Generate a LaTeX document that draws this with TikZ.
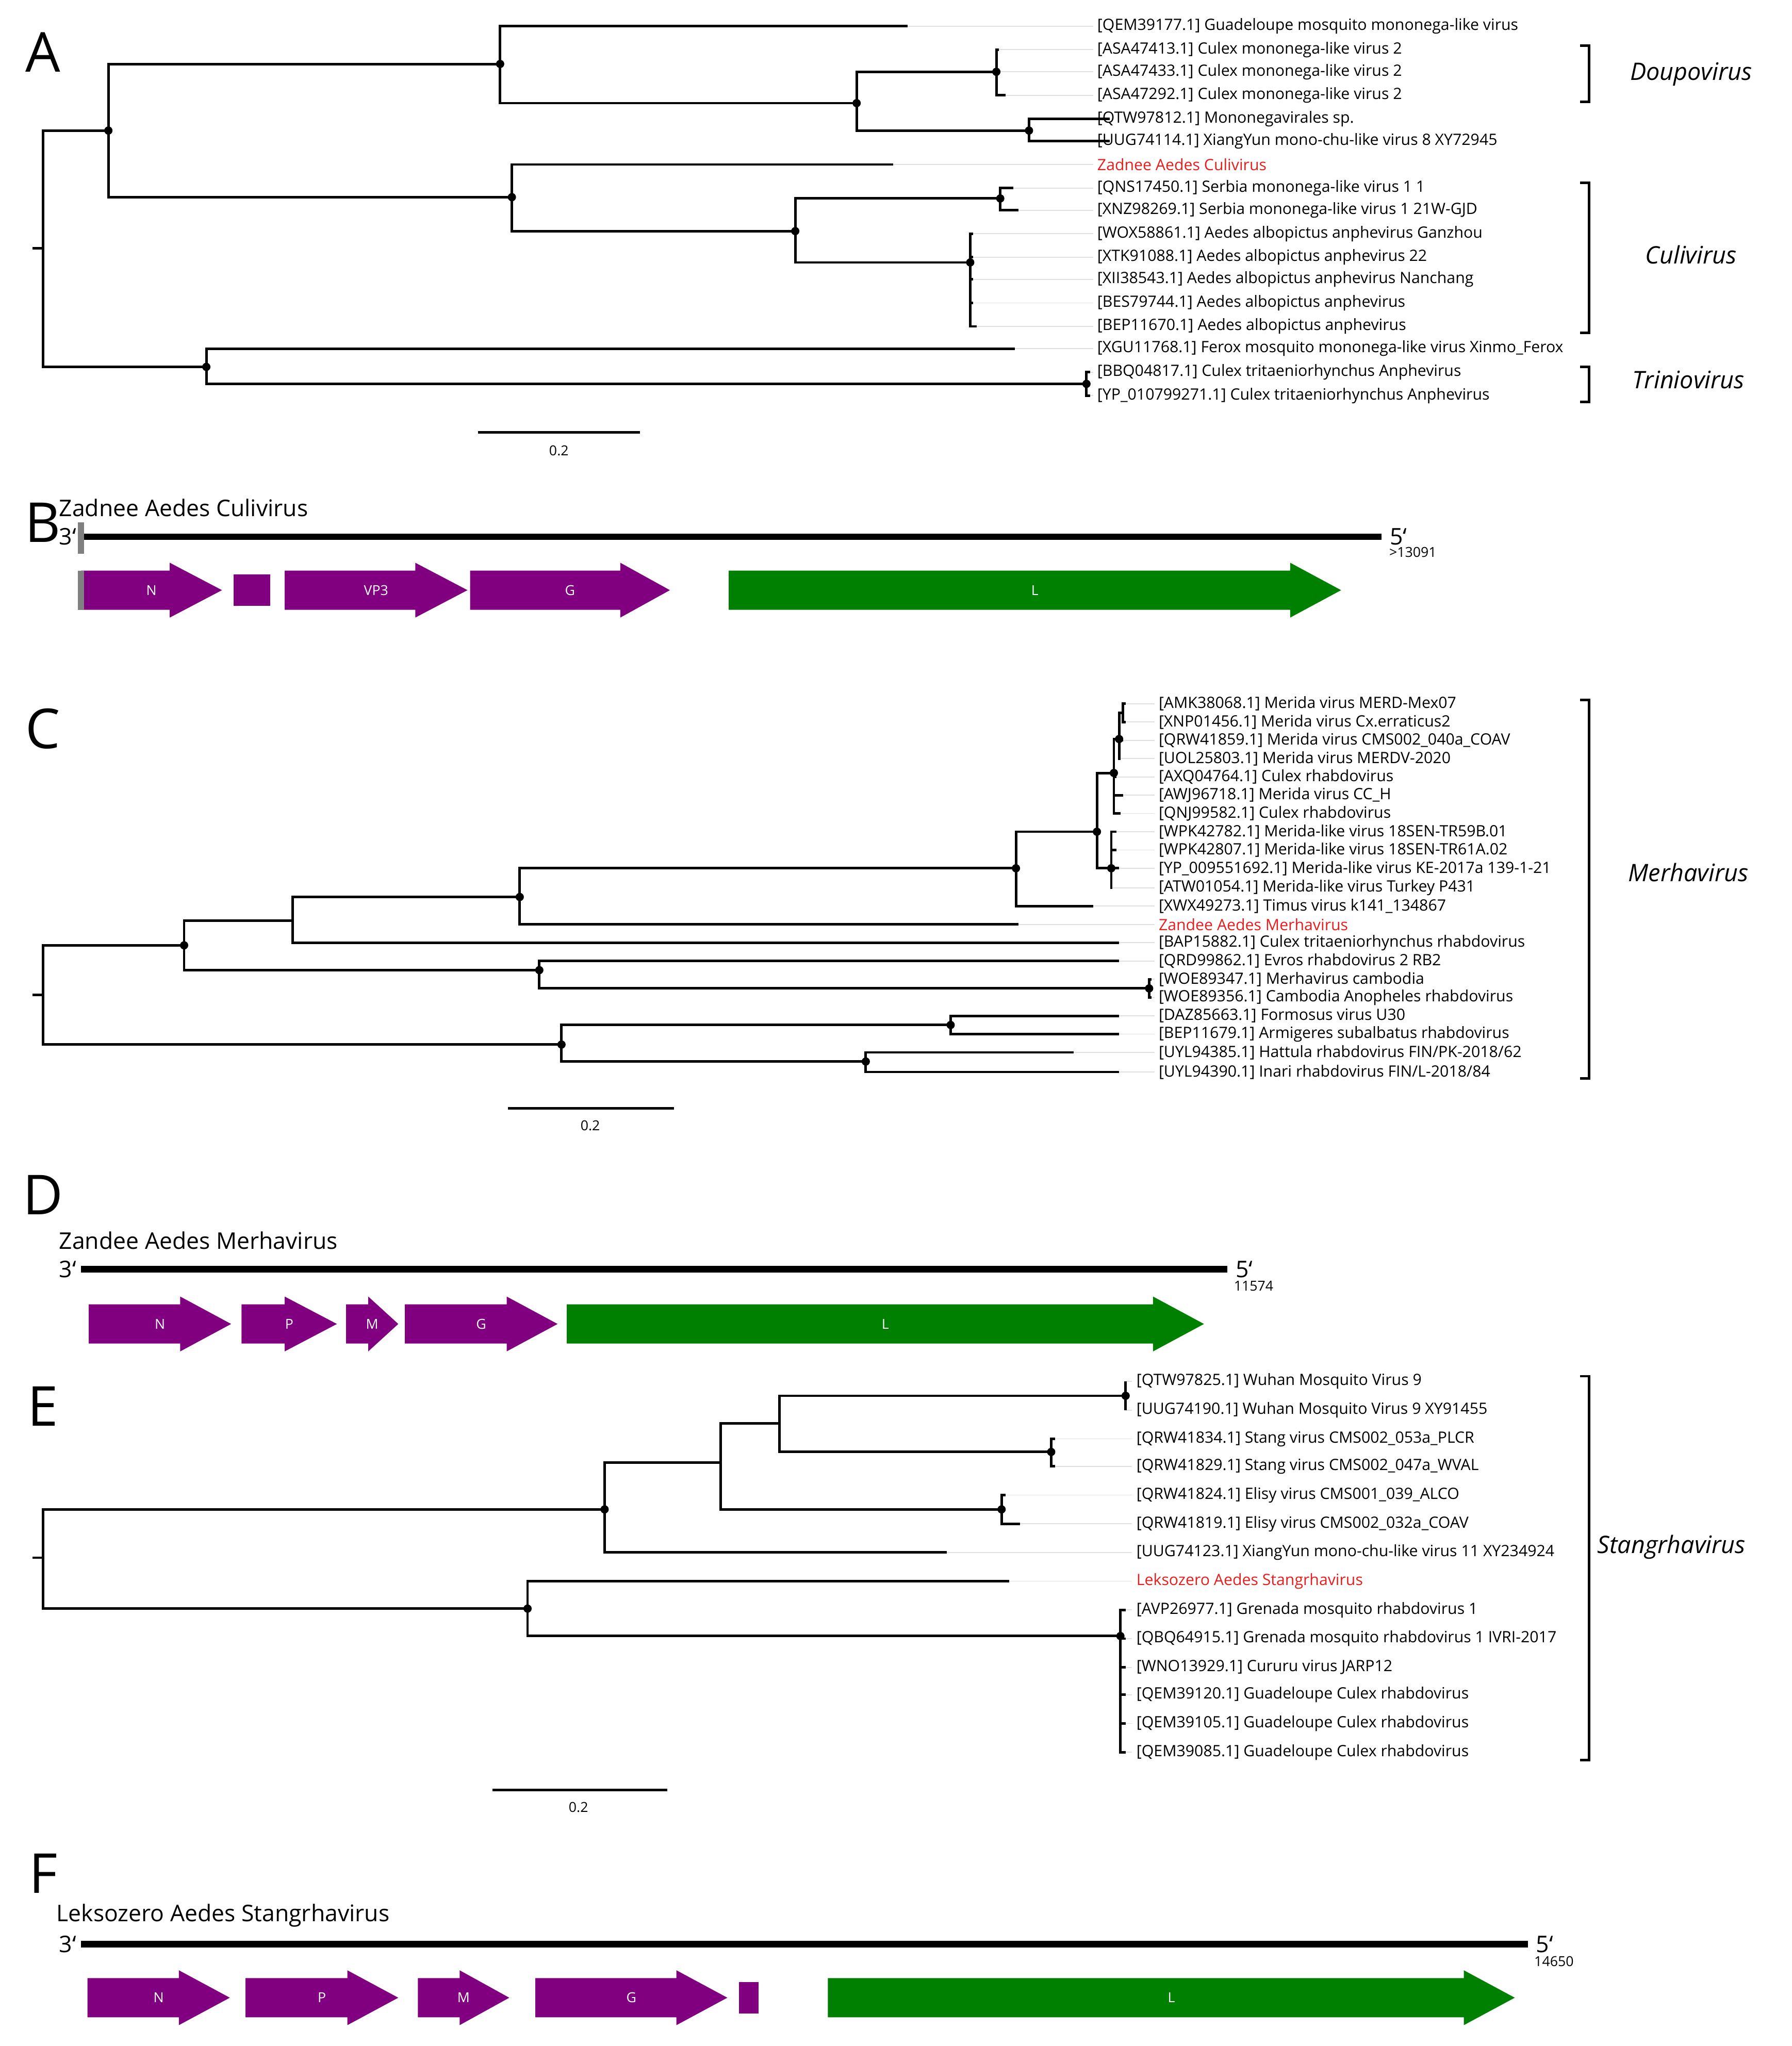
\documentclass[tikz,border=0pt]{standalone}
\usepackage{fontspec}
\setmainfont{Open Sans}
\begin{document}
\begin{tikzpicture}[x=0.02cm,y=-0.02cm,
 tr/.style={line width=1.1pt},
 faint/.style={line width=0.4pt,black!12},
 lab/.style={anchor=west,inner sep=0pt,font=\fontsize{6.8}{8}\selectfont},
 redlab/.style={lab,text={rgb,255:red,232;green,30;blue,30}},
 clade/.style={anchor=center,font=\fontsize{10.5}{12}\selectfont\itshape},
 panel/.style={anchor=center,font=\fontsize{24}{28}\selectfont},
 ttl/.style={anchor=west,inner sep=0pt,font=\fontsize{10}{12}\selectfont},
 small/.style={anchor=center,font=\fontsize{6}{7}\selectfont},
 gen/.style={line width=2.8pt},
 brk/.style={line width=1.1pt}]
\definecolor{gpurple}{RGB}{128,0,128}
\definecolor{ggreen}{RGB}{0,128,0}
\useasboundingbox (0,0) rectangle (1372,1567);
\newcommand\tip[4]{\draw[faint] (#1,#2)--(#3-3,#2); \node[lab] at (#3,#2) {#4};}
\newcommand\rtip[4]{\draw[faint] (#1,#2)--(#3-3,#2); \node[redlab] at (#3,#2) {#4};}
\newcommand\dt[2]{\fill (#1,#2) circle[radius=1.8pt];}
\newcommand\garr[7]{\fill[#5] (#1,#4-15)--(#3,#4-15)--(#3,#4-21)--(#2,#4)--(#3,#4+21)--(#3,#4+15)--(#1,#4+15)--cycle;
 \node[small,white] at ({(#1+#2)/2},#4) {#6};}
\newcommand\gbox[4]{\fill[#4] (#1,#3-12) rectangle (#2,#3+12);}
\newcommand\bracket[3]{\draw[brk] (#1-7,#2)--(#1,#2)--(#1,#3)--(#1-7,#3);}
% ===== A =====
\node[panel] at (33,40) {A};
\tip{695}{20}{840}{[QEM39177.1] Guadeloupe mosquito mononega-like virus}
\tip{765}{38}{840}{[ASA47413.1] Culex mononega-like virus 2}
\tip{765}{55}{840}{[ASA47433.1] Culex mononega-like virus 2}
\tip{770}{73}{840}{[ASA47292.1] Culex mononega-like virus 2}
\tip{850}{91}{840}{[QTW97812.1] Mononegavirales sp.}
\tip{850}{108}{840}{[UUG74114.1] XiangYun mono-chu-like virus 8 XY72945}
\rtip{684}{126}{840}{Zadnee Aedes Culivirus}
\tip{776}{144}{840}{[QNS17450.1] Serbia mononega-like virus 1 1}
\tip{780}{161}{840}{[XNZ98269.1] Serbia mononega-like virus 1 21W-GJD}
\tip{745}{179}{840}{[WOX58861.1] Aedes albopictus anphevirus Ganzhou}
\tip{745}{197}{840}{[XTK91088.1] Aedes albopictus anphevirus 22}
\tip{745}{214}{840}{[XII38543.1] Aedes albopictus anphevirus Nanchang}
\tip{745}{232}{840}{[BES79744.1] Aedes albopictus anphevirus}
\tip{748}{250}{840}{[BEP11670.1] Aedes albopictus anphevirus}
\tip{777}{267}{840}{[XGU11768.1] Ferox mosquito mononega-like virus Xinmo\_Ferox}
\tip{835}{285}{840}{[BBQ04817.1] Culex tritaeniorhynchus Anphevirus}
\tip{835}{303}{840}{[YP\_010799271.1] Culex tritaeniorhynchus Anphevirus}
\draw[tr] (25,190)--(33,190);
\draw[tr] (33,190)|-(83,100); \draw[tr] (33,190)|-(158,281);
\draw[tr] (83,100)|-(383,49); \draw[tr] (83,100)|-(392,151);
\draw[tr] (383,49)|-(695,20); \draw[tr] (383,49)|-(656,79);
\draw[tr] (656,79)|-(763,55); \draw[tr] (656,79)|-(788,100);
\draw[tr] (763,55)|-(765,38); \draw[tr] (763,55)|-(765,55); \draw[tr] (763,55)|-(770,73);
\draw[tr] (788,100)|-(850,91); \draw[tr] (788,100)|-(850,108);
\draw[tr] (392,151)|-(684,126); \draw[tr] (392,151)|-(609,177);
\draw[tr] (609,177)|-(766,152); \draw[tr] (609,177)|-(743,201);
\draw[tr] (766,152)|-(776,144); \draw[tr] (766,152)|-(780,161);
\foreach \y in {179,197,214,232} {\draw[tr] (743,201)|-(745,\y);}
\draw[tr] (743,201)|-(748,250);
\draw[tr] (158,281)|-(777,267); \draw[tr] (158,281)|-(832,294);
\draw[tr] (832,294)|-(835,285); \draw[tr] (832,294)|-(835,303);
\dt{83}{100}\dt{383}{49}\dt{763}{55}\dt{656}{79}\dt{788}{100}\dt{392}{151}\dt{766}{152}\dt{609}{177}\dt{743}{201}\dt{158}{281}\dt{832}{294}
\bracket{1217}{35}{78} \node[clade] at (1295,57) {Doupovirus};
\bracket{1217}{140}{255} \node[clade] at (1295,195) {Culivirus};
\bracket{1217}{281}{308} \node[clade] at (1293,291) {Triniovirus};
\draw[tr] (366,331)--(490,331); \node[small] at (428,345) {0.2};
% ===== B =====
\node[panel] at (33,400) {B};
\node[ttl] at (45,389) {Zadnee Aedes Culivirus};
\node[ttl] at (45,411) {3`};
\draw[gen] (62,411)--(1058,411);
\draw[line width=2.5pt,gray] (62,400)--(62,424);
\node[ttl] at (1064,411) {5`};
\node[small] at (1082,423) {>13091};
\garr{62}{170}{130}{452}{gpurple}{N}{}
\gbox{179}{207}{452}{gpurple}
\garr{218}{358}{318}{452}{gpurple}{VP3}{}
\garr{360}{513}{475}{452}{gpurple}{G}{}
\garr{558}{1027}{988}{452}{ggreen}{L}{}
\draw[line width=2.5pt,gray] (62,437)--(62,467);
% ===== C =====
\node[panel] at (33,558) {C};
\tip{862}{539}{887}{[AMK38068.1] Merida virus MERD-Mex07}
\tip{862}{553}{887}{[XNP01456.1] Merida virus Cx.erraticus2}
\tip{860}{567}{887}{[QRW41859.1] Merida virus CMS002\_040a\_COAV}
\tip{858}{581}{887}{[UOL25803.1] Merida virus MERDV-2020}
\tip{855}{595}{887}{[AXQ04764.1] Culex rhabdovirus}
\tip{860}{609}{887}{[AWJ96718.1] Merida virus CC\_H}
\tip{858}{623}{887}{[QNJ99582.1] Culex rhabdovirus}
\tip{855}{637}{887}{[WPK42782.1] Merida-like virus 18SEN-TR59B.01}
\tip{855}{651}{887}{[WPK42807.1] Merida-like virus 18SEN-TR61A.02}
\tip{857}{665}{887}{[YP\_009551692.1] Merida-like virus KE-2017a 139-1-21}
\tip{852}{680}{887}{[ATW01054.1] Merida-like virus Turkey P431}
\tip{837}{694}{887}{[XWX49273.1] Timus virus k141\_134867}
\rtip{780}{708}{887}{Zandee Aedes Merhavirus}
\tip{857}{722}{887}{[BAP15882.1] Culex tritaeniorhynchus rhabdovirus}
\tip{857}{736}{887}{[QRD99862.1] Evros rhabdovirus 2 RB2}
\tip{882}{750}{887}{[WOE89347.1] Merhavirus cambodia}
\tip{882}{764}{887}{[WOE89356.1] Cambodia Anopheles rhabdovirus}
\tip{857}{778}{887}{[DAZ85663.1] Formosus virus U30}
\tip{857}{792}{887}{[BEP11679.1] Armigeres subalbatus rhabdovirus}
\tip{822}{806}{887}{[UYL94385.1] Hattula rhabdovirus FIN/PK-2018/62}
\tip{857}{821}{887}{[UYL94390.1] Inari rhabdovirus FIN/L-2018/84}
\draw[tr] (25,762)--(33,762);
\draw[tr] (33,762)|-(141,724); \draw[tr] (33,762)|-(430,800);
\draw[tr] (141,724)|-(224,705); \draw[tr] (141,724)|-(413,743);
\draw[tr] (224,705)|-(398,687); \draw[tr] (224,705)|-(857,722);
\draw[tr] (398,687)|-(778,665); \draw[tr] (398,687)|-(780,708);
\draw[tr] (778,665)|-(840,637); \draw[tr] (778,665)|-(837,694);
\draw[tr] (840,637)|-(853,592); \draw[tr] (840,637)|-(851,665);
\draw[tr] (853,592)|-(857,566); \draw[tr] (853,592)|-(855,595); \draw[tr] (853,592)|-(860,609); \draw[tr] (853,592)|-(858,623);
\draw[tr] (857,566)|-(860,546); \draw[tr] (857,566)|-(860,567); \draw[tr] (857,566)|-(858,581);
\draw[tr] (860,546)|-(862,539); \draw[tr] (860,546)|-(862,553);
\draw[tr] (851,665)|-(855,637); \draw[tr] (851,665)|-(855,651); \draw[tr] (851,665)|-(857,665); \draw[tr] (851,665)|-(852,680);
\draw[tr] (413,743)|-(857,736); \draw[tr] (413,743)|-(880,757);
\draw[tr] (880,757)|-(882,750); \draw[tr] (880,757)|-(882,764);
\draw[tr] (430,800)|-(728,785); \draw[tr] (430,800)|-(663,813);
\draw[tr] (728,785)|-(857,778); \draw[tr] (728,785)|-(857,792);
\draw[tr] (663,813)|-(822,806); \draw[tr] (663,813)|-(857,821);
\dt{141}{724}\dt{398}{687}\dt{778}{665}\dt{840}{637}\dt{853}{592}\dt{857}{566}\dt{851}{665}\dt{413}{743}\dt{880}{757}\dt{430}{800}\dt{728}{785}\dt{663}{813}
\bracket{1217}{536}{826} \node[clade] at (1293,668) {Merhavirus};
\draw[tr] (389,849)--(516,849); \node[small] at (452,862) {0.2};
% ===== D =====
\node[panel] at (33,915) {D};
\node[ttl] at (45,950) {Zandee Aedes Merhavirus};
\node[ttl] at (45,972) {3`};
\draw[gen] (62,972)--(940,972);
\node[ttl] at (946,972) {5`};
\node[small] at (960,985) {11574};
\garr{68}{177}{138}{1014}{gpurple}{N}{}
\garr{185}{258}{218}{1014}{gpurple}{P}{}
\garr{265}{305}{282}{1014}{gpurple}{M}{}
\garr{310}{427}{388}{1014}{gpurple}{G}{}
\garr{434}{922}{883}{1014}{ggreen}{L}{}
% ===== E =====
\node[panel] at (33,1077) {E};
\tip{862}{1058}{870}{[QTW97825.1] Wuhan Mosquito Virus 9}
\tip{862}{1080}{870}{[UUG74190.1] Wuhan Mosquito Virus 9 XY91455}
\tip{808}{1102}{870}{[QRW41834.1] Stang virus CMS002\_053a\_PLCR}
\tip{808}{1123}{870}{[QRW41829.1] Stang virus CMS002\_047a\_WVAL}
\tip{770}{1145}{870}{[QRW41824.1] Elisy virus CMS001\_039\_ALCO}
\tip{781}{1167}{870}{[QRW41819.1] Elisy virus CMS002\_032a\_COAV}
\tip{725}{1189}{870}{[UUG74123.1] XiangYun mono-chu-like virus 11 XY234924}
\rtip{773}{1211}{870}{Leksozero Aedes Stangrhavirus}
\tip{862}{1233}{870}{[AVP26977.1] Grenada mosquito rhabdovirus 1}
\tip{862}{1255}{870}{[QBQ64915.1] Grenada mosquito rhabdovirus 1 IVRI-2017}
\tip{862}{1277}{870}{[WNO13929.1] Cururu virus JARP12}
\tip{862}{1298}{870}{[QEM39120.1] Guadeloupe Culex rhabdovirus}
\tip{862}{1320}{870}{[QEM39105.1] Guadeloupe Culex rhabdovirus}
\tip{862}{1342}{870}{[QEM39085.1] Guadeloupe Culex rhabdovirus}
\draw[tr] (25,1193)--(33,1193);
\draw[tr] (33,1193)|-(463,1156); \draw[tr] (33,1193)|-(404,1232);
\draw[tr] (463,1156)|-(552,1120); \draw[tr] (463,1156)|-(725,1189);
\draw[tr] (552,1120)|-(597,1090); \draw[tr] (552,1120)|-(767,1156);
\draw[tr] (597,1090)|-(862,1069); \draw[tr] (597,1090)|-(805,1112);
\draw[tr] (862,1069)|-(862,1058); \draw[tr] (862,1069)|-(862,1080);
\draw[tr] (805,1112)|-(808,1102); \draw[tr] (805,1112)|-(808,1123);
\draw[tr] (767,1156)|-(770,1145); \draw[tr] (767,1156)|-(781,1167);
\draw[tr] (404,1232)|-(773,1211); \draw[tr] (404,1232)|-(858,1253);
\foreach \y in {1233,1255,1277,1298,1320,1342} {\draw[tr] (858,1253)|-(862,\y);}
\dt{463}{1156}\dt{862}{1069}\dt{805}{1112}\dt{767}{1156}\dt{404}{1232}\dt{858}{1253}
\bracket{1217}{1054}{1348} \node[clade] at (1280,1185) {Stangrhavirus};
\draw[tr] (377,1371)--(511,1371); \node[small] at (443,1384) {0.2};
% ===== F =====
\node[panel] at (33,1435) {F};
\node[ttl] at (43,1467) {Leksozero Aedes Stangrhavirus};
\node[ttl] at (45,1489) {3`};
\draw[gen] (62,1489)--(1170,1489);
\node[ttl] at (1176,1489) {5`};
\node[small] at (1190,1502) {14650};
\garr{67}{176}{137}{1530}{gpurple}{N}{}
\garr{188}{305}{266}{1530}{gpurple}{P}{}
\garr{320}{390}{352}{1530}{gpurple}{M}{}
\garr{410}{557}{518}{1530}{gpurple}{G}{}
\gbox{566}{581}{1530}{gpurple}
\garr{634}{1160}{1121}{1530}{ggreen}{L}{}
\end{tikzpicture}
\end{document}
